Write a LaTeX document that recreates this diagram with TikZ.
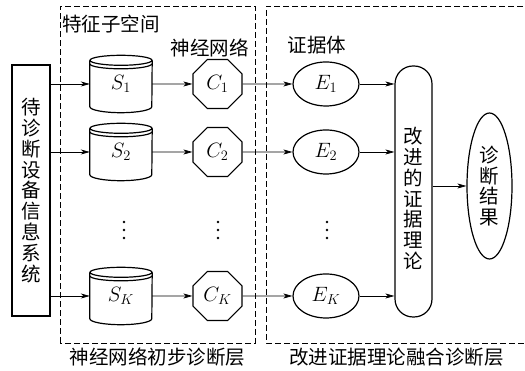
\documentclass[tikz,border=0pt]{standalone}
\usepackage{fontspec}
\newfontfamily\cjk{Noto Sans CJK SC}
\usetikzlibrary{shapes.geometric,arrows.meta}

% drum-shaped store: name, position, label
\newcommand\drum[3]{%
  \node[minimum width=62, minimum height=57, inner sep=0, font=\fontsize{20}{20}\selectfont] (#1) at (#2) {\raisebox{-3pt}{$#3$}};
  \draw[shp] ([yshift=-5]#1.north west) -- ([yshift=6]#1.south west)
    arc[start angle=180, end angle=360, x radius=31, y radius=6]
    -- ([yshift=-5]#1.north east);
  \draw[shp] ([yshift=-5]#1.north) ellipse[x radius=31, y radius=5];
  \draw[shp] ([yshift=-8.5]#1.north west)
    arc[start angle=180, end angle=360, x radius=31, y radius=5];
}

\begin{document}
\begin{tikzpicture}[x=1pt, y=1pt,
  shp/.style={line width=1.2pt},
  arr/.style={line width=0.7pt, -{Stealth[length=9pt, width=5pt, inset=2.5pt]}},
  dbox/.style={line width=0.7pt, dash pattern=on 6pt off 3pt},
  cn/.style={font=\cjk\fontsize{19.5}{20.8}\selectfont, inner sep=0},
  mth/.style={font=\fontsize{20}{20}\selectfont, inner sep=0},
  oct/.style={regular polygon, regular polygon sides=8, draw, shp, minimum size=53, mth},
  evid/.style={ellipse, draw, shp, minimum width=66, minimum height=44, mth},
]
\useasboundingbox (0,0) rectangle (525,371);

% layer frames
\draw[dbox] (60,28) rectangle (255,365);
\draw[dbox] (523,365) -- (266,365) -- (266,28) -- (525,28);

% frame captions
\node[cn, anchor=west] (lblsub) at (62,347) {特征子空间};
\node[cn] (lblnn) at (209.5,323) {神经网络};
\node[cn] (lblev) at (317,326) {证据体};
\node[cn] (lay1) at (157.5,14) {神经网络初步诊断层};
\node[cn] (lay2) at (396.5,14) {改进证据理论融合诊断层};

% source system
\node[draw, shp, minimum width=38, minimum height=251, cn, align=center] (src) at (31,180.5)
  {待\\诊\\断\\设\\备\\信\\息\\系\\统};

% feature subspaces
\drum{s1}{121,287}{S_1}
\drum{s2}{121,219}{S_2}
\drum{sk}{121,75}{S_K}

% neural networks
\node[oct] (c1) at (217.5,287) {$C_1$};
\node[oct] (c2) at (217.5,219) {$C_2$};
\node[oct] (ck) at (217.5,75) {$C_K$};

% bodies of evidence
\node[evid] (e1) at (326,287) {$E_1$};
\node[evid] (e2) at (326,219) {$E_2$};
\node[evid] (ek) at (326,75) {$E_K$};

% fusion block
\node[draw, shp, rounded corners=18pt, minimum width=37, minimum height=251, inner sep=0] (fus) at (413.5,179.5) {};
\node[cn, align=center] (fustxt) at (413.5,172.5) {改\\进\\的\\证\\据\\理\\论};

% result
\node[ellipse, draw, shp, minimum width=45, minimum height=146, inner sep=0, cn, align=center] (res) at (489.5,185)
  {诊\\断\\结\\果};

% ellipsis dots
\foreach \x in {124,218,327} {
  \foreach \y in {149,141,133} \fill (\x,\y) circle[radius=1.3];
}

% connectors
\foreach \r in {1,2,k} {
  \draw[arr] (src.east |- s\r) -- (s\r.west);
  \draw[arr] (s\r) -- (c\r);
  \draw[arr] (c\r) -- (e\r);
  \draw[arr] (e\r) -- (e\r -| fus.west);
}
\draw[arr] (fus.east |- res) -- (res.west);
\end{tikzpicture}
\end{document}
